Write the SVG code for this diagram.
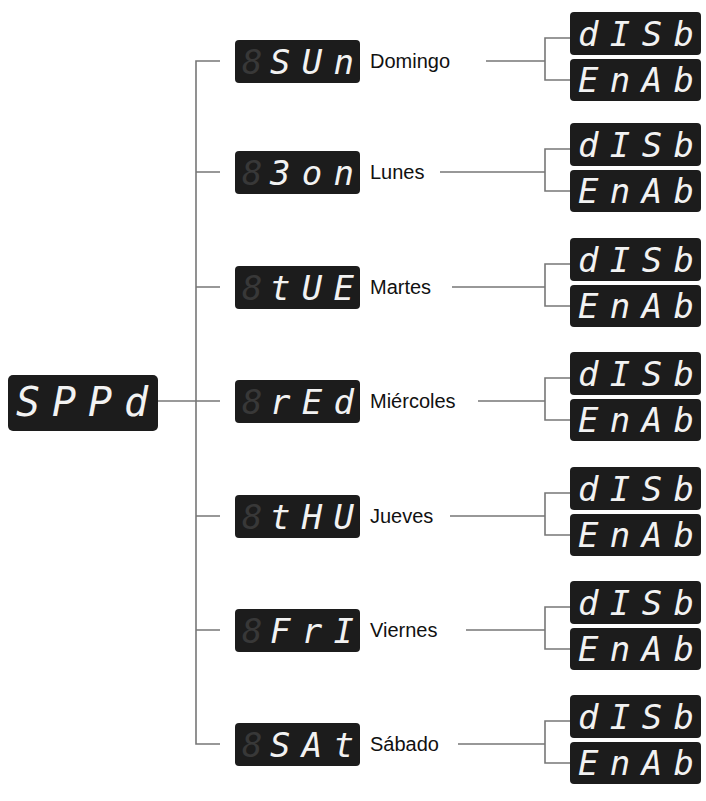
<svg xmlns="http://www.w3.org/2000/svg" width="706" height="801" viewBox="0 0 706 801">
<style>
.box{fill:#1c1c1c}
.g{font-family:"DejaVu Sans Mono",monospace;font-style:oblique;font-size:34px;fill:#383838}
.d{font-family:"DejaVu Sans Mono",monospace;font-style:oblique;font-size:34px;fill:#f2f2f2;white-space:pre}
.s{font-family:"DejaVu Sans Mono",monospace;font-style:oblique;font-size:40px;fill:#f2f2f2}
.lb{font-family:"Liberation Sans",Arial,sans-serif;font-size:20px;fill:#111}
.c{stroke:#777;stroke-width:1.6;fill:none}
</style>
<defs>
<g id="opts">
<rect class="box" x="570" y="-49" width="131" height="43" rx="4"/>
<text class="d" x="578" y="-15" textLength="116" lengthAdjust="spacing">dISb</text>
<rect class="box" x="570" y="-2" width="131" height="42" rx="4"/>
<text class="d" x="578" y="31" textLength="116" lengthAdjust="spacing">EnAb</text>
</g>
</defs>
<g id="connectors">
<line class="c" x1="158" y1="401" x2="196" y2="401"/>
<path class="c" d="M220 61H196V744H220"/>
<path class="c" d="M196 172H220M196 287H220M196 401H220M196 516H220M196 630H220"/>
<path class="c" d="M486 61H545 M440 172H545 M452 287H545 M478 401H545 M450 516H545 M466 630H545 M458 744H545"/>
<g id="brackets">
<path class="c" d="M570 38H545V80H570"/>
<path class="c" d="M570 149H545V191H570"/>
<path class="c" d="M570 264H545V306H570"/>
<path class="c" d="M570 378H545V420H570"/>
<path class="c" d="M570 493H545V535H570"/>
<path class="c" d="M570 607H545V649H570"/>
<path class="c" d="M570 721H545V763H570"/>
</g>
</g>
<g id="sppd">
<rect class="box" x="8" y="375" width="150" height="56" rx="5"/>
<text class="s" x="16" y="416" textLength="132" lengthAdjust="spacing">SPPd</text>
</g>
<g id="sun"><rect class="box" x="235" y="40" width="125" height="43" rx="4"/><text class="g" x="242" y="74">8</text><text class="d" x="270" y="74" textLength="84" lengthAdjust="spacing">SUn</text><text class="lb" x="370" y="68">Domingo</text><use href="#opts" y="61"/></g>
<g id="mon"><rect class="box" x="235" y="151" width="125" height="43" rx="4"/><text class="g" x="242" y="185">8</text><text class="d" x="270" y="185" textLength="84" lengthAdjust="spacing">3on</text><text class="lb" x="370" y="179">Lunes</text><use href="#opts" y="172"/></g>
<g id="tue"><rect class="box" x="235" y="266" width="125" height="43" rx="4"/><text class="g" x="242" y="300">8</text><text class="d" x="270" y="300" textLength="84" lengthAdjust="spacing">tUE</text><text class="lb" x="370" y="294">Martes</text><use href="#opts" y="287"/></g>
<g id="wed"><rect class="box" x="235" y="380" width="125" height="43" rx="4"/><text class="g" x="242" y="414">8</text><text class="d" x="270" y="414" textLength="84" lengthAdjust="spacing">rEd</text><text class="lb" x="370" y="408">Miércoles</text><use href="#opts" y="401"/></g>
<g id="thu"><rect class="box" x="235" y="495" width="125" height="43" rx="4"/><text class="g" x="242" y="529">8</text><text class="d" x="270" y="529" textLength="84" lengthAdjust="spacing">tHU</text><text class="lb" x="370" y="523">Jueves</text><use href="#opts" y="516"/></g>
<g id="fri"><rect class="box" x="235" y="609" width="125" height="43" rx="4"/><text class="g" x="242" y="643">8</text><text class="d" x="270" y="643" textLength="84" lengthAdjust="spacing">FrI</text><text class="lb" x="370" y="637">Viernes</text><use href="#opts" y="630"/></g>
<g id="sat"><rect class="box" x="235" y="723" width="125" height="43" rx="4"/><text class="g" x="242" y="757">8</text><text class="d" x="270" y="757" textLength="84" lengthAdjust="spacing">SAt</text><text class="lb" x="370" y="751">Sábado</text><use href="#opts" y="744"/></g>
</svg>
